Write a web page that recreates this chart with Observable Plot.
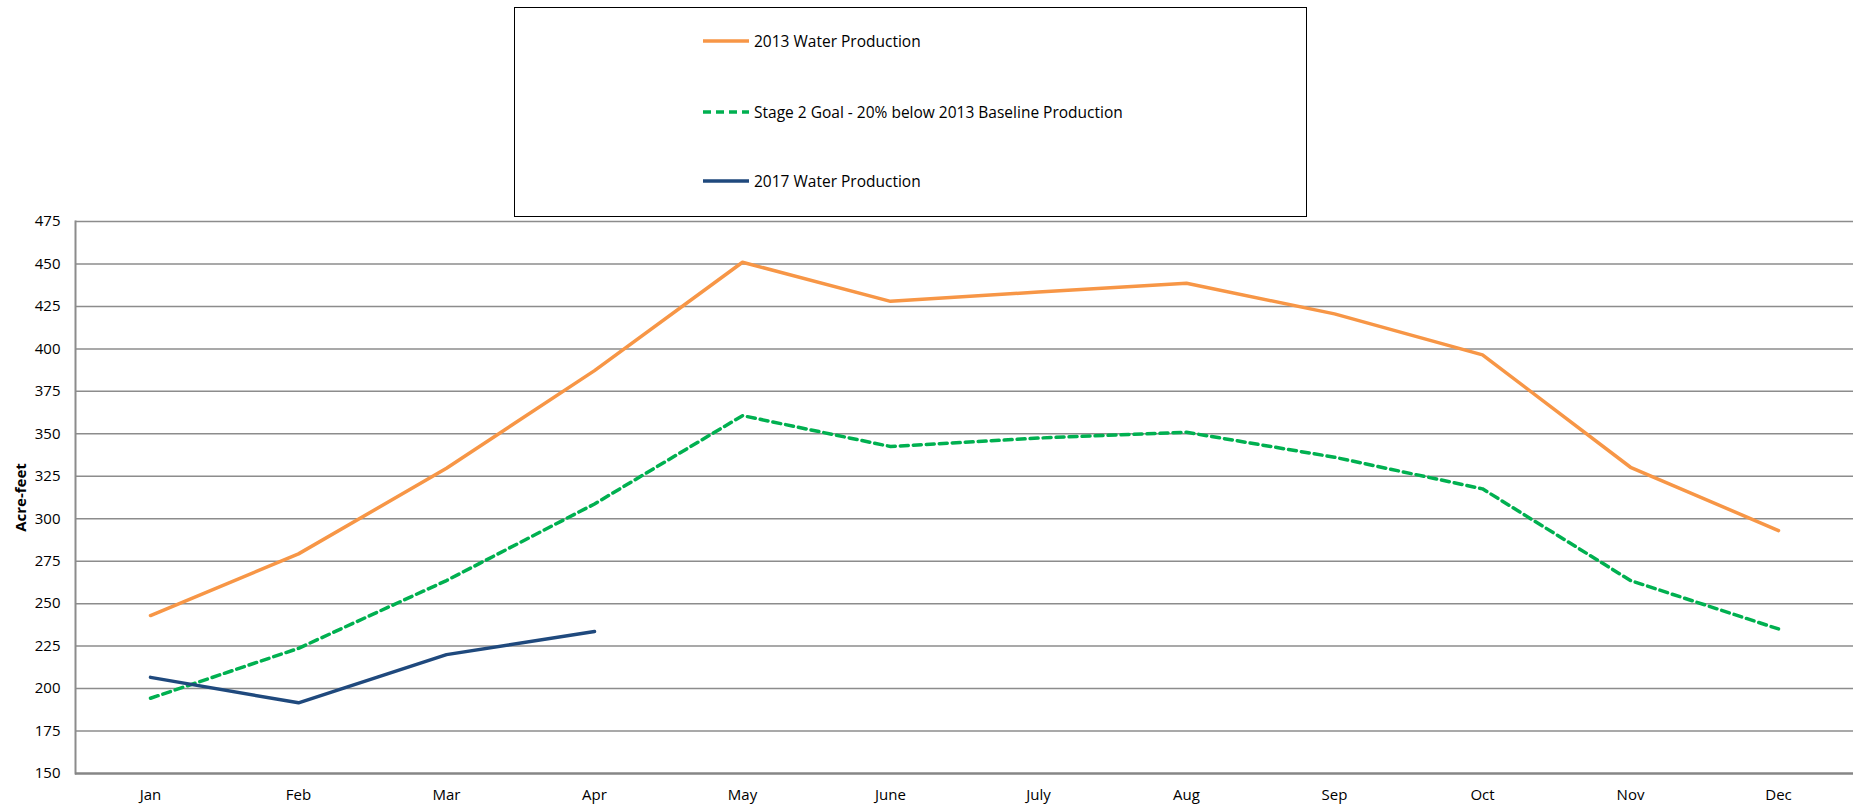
<!DOCTYPE html>
<html>
<head>
<meta charset="utf-8">
<script src="https://cdn.jsdelivr.net/npm/d3@7"></script>
<script src="https://cdn.jsdelivr.net/npm/@observablehq/plot@0.6"></script>
<style>
  html, body { margin: 0; padding: 0; background: #fff; }
  body { width: 1856px; height: 805px; overflow: hidden; font-family: "Open Sans", "Noto Sans", sans-serif; }
  #legendArea { position: relative; width: 1856px; height: 200px; z-index: 2; }
  #legendBox { position: absolute; left: 514px; top: 7px; width: 791px; height: 208px; border: 1px solid #000; box-sizing: content-box; background: #fff; }
  .item { position: absolute; left: 188px; height: 20px; display: flex; align-items: center; font-size: 15.5px; color: #000; white-space: nowrap; }
  .item svg { margin-right: 5px; }
  #chart svg g[aria-label="y-axis label"] text { font-weight: bold; }
</style>
</head>
<body>
<div id="legendArea"><div id="legendBox"></div></div>
<div id="chart"></div>
<script>
const months = ["Jan","Feb","Mar","Apr","May","June","July","Aug","Sep","Oct","Nov","Dec"];
const prod2013 = [243, 279.3, 329.7, 387.2, 451, 428, 433.5, 438.6, 420.6, 396.5, 330.3, 293];
const goalStage2 = [194.3, 223.7, 263.6, 308.7, 360.7, 342.5, 347.5, 350.9, 336.2, 317.6, 263.6, 235.1];
const prod2017 = [206.6, 191.6, 220, 233.6];
const seriesNames = ["2013 Water Production", "Stage 2 Goal - 20% below 2013 Baseline Production", "2017 Water Production"];
const yTicks = d3.range(150, 476, 25);

const colors = ["#F79646", "#00B050", "#1F497D"];
const dashes = [null, "8,5", null];

const rows = [];
prod2013.forEach((v, i) => rows.push({month: months[i], value: v, series: seriesNames[0]}));
goalStage2.forEach((v, i) => rows.push({month: months[i], value: v, series: seriesNames[1]}));
prod2017.forEach((v, i) => rows.push({month: months[i], value: v, series: seriesNames[2]}));

// Legend
const box = document.getElementById("legendBox");
const legendTops = [23, 94, 163];
seriesNames.forEach((name, i) => {
  const it = document.createElement("div");
  it.className = "item";
  it.style.top = legendTops[i] + "px";
  it.innerHTML = `<svg width="46" height="6"><line x1="0" y1="3" x2="46" y2="3" stroke="${colors[i]}" stroke-width="3.5" ${dashes[i] ? `stroke-dasharray="${dashes[i]}"` : ""}/></svg><span>${name}</span>`;
  box.appendChild(it);
});

const plot = Plot.plot({
  width: 1856,
  height: 605,
  marginTop: 21,
  marginBottom: 32,
  marginLeft: 75,
  marginRight: 3,
  style: {fontFamily: "'Open Sans', 'Noto Sans', sans-serif", fontSize: "15px", color: "#000", background: "transparent"},
  x: {type: "point", domain: months, padding: 0.5},
  y: {domain: [150, 475]},
  marks: [
    Plot.ruleY(yTicks.filter(t => t > 150), {stroke: "#8c8c8c", strokeWidth: 1.5, strokeOpacity: 1}),
    Plot.frame({anchor: "left", stroke: "#8c8c8c", strokeWidth: 2}),
    Plot.ruleY([150], {stroke: "#868686", strokeWidth: 2.5}),
    Plot.axisY({ticks: yTicks, tickSize: 0, tickPadding: 15, tickFormat: d => d, label: "Acre-feet", labelAnchor: "center", labelArrow: "none", labelOffset: 60, fontSize: 15}),
    Plot.axisX({tickSize: 0, tickPadding: 16, label: null, fontSize: 15}),
    Plot.line(rows.filter(d => d.series === seriesNames[0]), {x: "month", y: "value", stroke: colors[0], strokeWidth: 3.5}),
    Plot.line(rows.filter(d => d.series === seriesNames[1]), {x: "month", y: "value", stroke: colors[1], strokeWidth: 3.5, strokeDasharray: dashes[1]}),
    Plot.line(rows.filter(d => d.series === seriesNames[2]), {x: "month", y: "value", stroke: colors[2], strokeWidth: 3.5})
  ]
});
document.getElementById("chart").appendChild(plot);
</script>
</body>
</html>
